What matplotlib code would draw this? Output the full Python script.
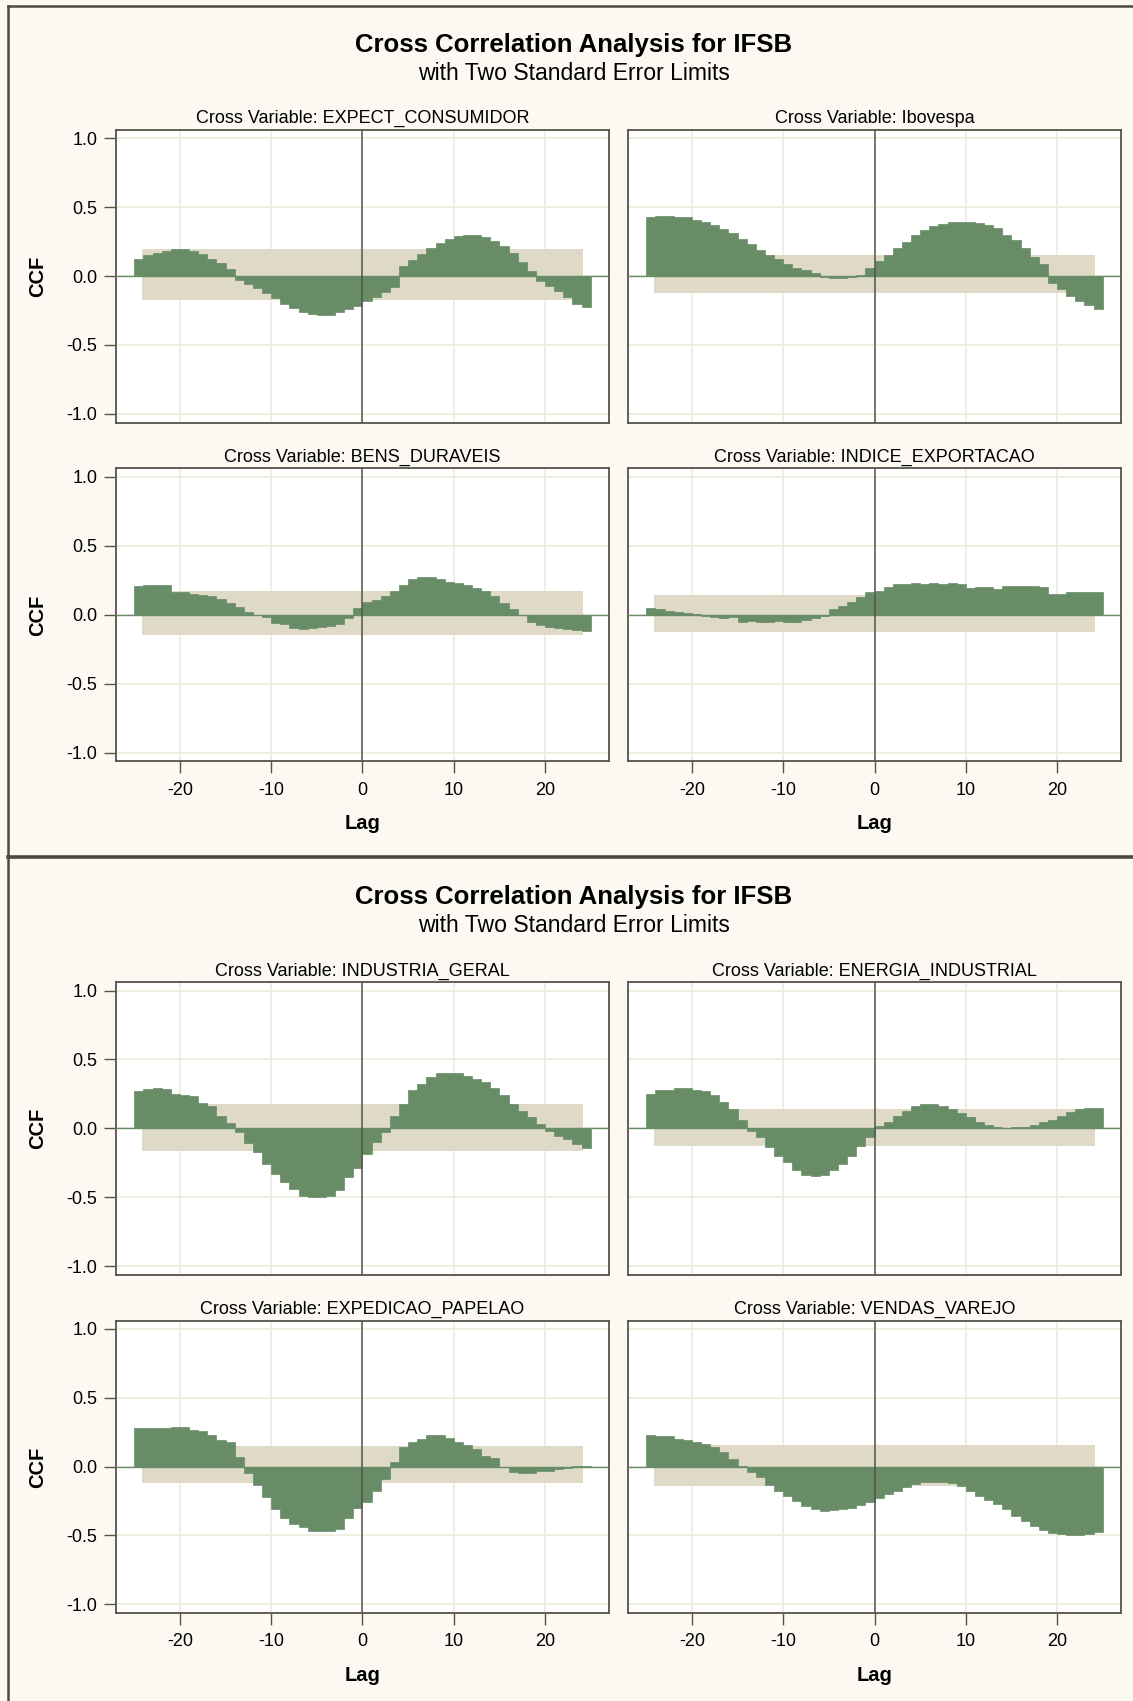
import numpy as np
import matplotlib
matplotlib.use("Agg")
import matplotlib.pyplot as plt
from matplotlib.lines import Line2D

plt.rcParams['font.family'] = ['Liberation Sans', 'DejaVu Sans']
plt.rcParams['axes.unicode_minus'] = False

# lag at the left edge of each step
lags = np.arange(-25, 25)

expect_consumidor = [0.125, 0.155, 0.17, 0.185, 0.195, 0.195, 0.18, 0.16, 0.125, 0.095,
                     0.05, -0.03, -0.055, -0.09, -0.125, -0.16, -0.2, -0.235, -0.26, -0.275,
                     -0.28, -0.28, -0.26, -0.24, -0.215, -0.185, -0.15, -0.115, -0.08, 0.07,
                     0.115, 0.16, 0.205, 0.24, 0.27, 0.29, 0.30, 0.295, 0.28, 0.255,
                     0.215, 0.17, 0.1, 0.035, -0.035, -0.07, -0.11, -0.15, -0.2, -0.225]
ibovespa = [0.43, 0.435, 0.435, 0.43, 0.425, 0.41, 0.39, 0.37, 0.34, 0.31,
            0.27, 0.23, 0.19, 0.15, 0.12, 0.09, 0.06, 0.04, 0.02, -0.005,
            -0.015, -0.015, -0.01, 0.01, 0.06, 0.11, 0.155, 0.2, 0.25, 0.295,
            0.335, 0.365, 0.38, 0.39, 0.395, 0.395, 0.385, 0.37, 0.345, 0.3,
            0.26, 0.2, 0.14, 0.09, -0.048, -0.096, -0.144, -0.18, -0.21, -0.236]
bens_duraveis = [0.21, 0.215, 0.215, 0.215, 0.165, 0.165, 0.147, 0.14, 0.135, 0.11,
                 0.087, 0.055, 0.02, 0.0, -0.02, -0.06, -0.065, -0.1, -0.105, -0.1,
                 -0.087, -0.08, -0.07, -0.027, 0.05, 0.09, 0.105, 0.135, 0.17, 0.215,
                 0.255, 0.27, 0.273, 0.256, 0.237, 0.227, 0.215, 0.195, 0.17, 0.135,
                 0.087, 0.04, 0.0, -0.053, -0.075, -0.09, -0.1, -0.105, -0.11, -0.12]
indice_exportacao = [0.05, 0.04, 0.025, 0.017, 0.012, 0.007, -0.007, -0.017, -0.024, -0.017,
                     -0.05, -0.045, -0.05, -0.05, -0.045, -0.05, -0.05, -0.036, -0.024, -0.007,
                     0.04, 0.065, 0.09, 0.13, 0.163, 0.17, 0.2, 0.22, 0.225, 0.23,
                     0.225, 0.23, 0.223, 0.23, 0.225, 0.19, 0.2, 0.197, 0.187, 0.207,
                     0.207, 0.207, 0.207, 0.2, 0.153, 0.15, 0.163, 0.165, 0.165, 0.163]
industria_geral = [0.27, 0.285, 0.29, 0.285, 0.25, 0.24, 0.235, 0.185, 0.16, 0.09,
                   0.04, -0.03, -0.105, -0.17, -0.26, -0.33, -0.39, -0.44, -0.49, -0.5,
                   -0.5, -0.49, -0.445, -0.355, -0.29, -0.185, -0.096, -0.024, 0.09, 0.18,
                   0.275, 0.325, 0.373, 0.4, 0.405, 0.4, 0.38, 0.36, 0.337, 0.29,
                   0.24, 0.18, 0.128, 0.08, 0.03, -0.02, -0.053, -0.077, -0.113, -0.14]
energia_industrial = [0.25, 0.28, 0.28, 0.29, 0.29, 0.28, 0.272, 0.24, 0.193, 0.14,
                      0.063, -0.017, -0.065, -0.138, -0.2, -0.245, -0.306, -0.337, -0.347, -0.337,
                      -0.306, -0.258, -0.2, -0.13, -0.065, 0.02, 0.048, 0.09, 0.128, 0.164,
                      0.18, 0.18, 0.164, 0.14, 0.11, 0.08, 0.043, 0.024, 0.012, 0.005,
                      0.007, 0.012, 0.024, 0.043, 0.063, 0.087, 0.116, 0.14, 0.147, 0.147]
expedicao_papelao = [0.283, 0.283, 0.283, 0.283, 0.29, 0.29, 0.268, 0.256, 0.227, 0.19,
                     0.178, 0.073, -0.045, -0.13, -0.22, -0.31, -0.375, -0.42, -0.44, -0.47,
                     -0.47, -0.465, -0.45, -0.37, -0.3, -0.254, -0.18, -0.09, 0.03, 0.14,
                     0.18, 0.198, 0.227, 0.227, 0.21, 0.178, 0.16, 0.13, 0.08, 0.063,
                     0.0, -0.04, -0.05, -0.05, -0.035, -0.03, -0.015, -0.01, 0.007, 0.005]
vendas_varejo = [0.232, 0.225, 0.22, 0.2, 0.19, 0.178, 0.166, 0.14, 0.105, 0.056,
                 0.007, -0.04, -0.078, -0.13, -0.18, -0.21, -0.25, -0.285, -0.31, -0.32,
                 -0.317, -0.31, -0.3, -0.28, -0.26, -0.225, -0.2, -0.18, -0.15, -0.127,
                 -0.11, -0.11, -0.115, -0.122, -0.14, -0.176, -0.212, -0.244, -0.273, -0.31,
                 -0.36, -0.395, -0.43, -0.463, -0.48, -0.49, -0.5, -0.5, -0.49, -0.475]

names = ['EXPECT_CONSUMIDOR', 'Ibovespa', 'BENS_DURAVEIS', 'INDICE_EXPORTACAO',
         'INDUSTRIA_GERAL', 'ENERGIA_INDUSTRIAL', 'EXPEDICAO_PAPELAO', 'VENDAS_VAREJO']
series = [expect_consumidor, ibovespa, bens_duraveis, indice_exportacao,
          industria_geral, energia_industrial, expedicao_papelao, vendas_varejo]
band_upper = [0.195, 0.149, 0.172, 0.143, 0.176, 0.14, 0.146, 0.158]
band_lower = [-0.171, -0.12, -0.15, -0.126, -0.166, -0.125, -0.122, -0.14]
band_lags = [-24.2, 24.2]

BG = '#fbf9f1'
GREEN = '#678c66'
BAND = '#dedac7'
GRID = '#eeebdc'
DARK = '#57524a'

W, H = 1133, 1701
fig = plt.figure(figsize=(W / 100, H / 100), dpi=100, facecolor=BG)


def add_ax(left, top, right, bottom):
    return fig.add_axes([left / W, 1 - bottom / H, (right - left) / W, (bottom - top) / H])


# frames of the two graphs
fig.add_artist(Line2D([8 / W, 8 / W], [0, 1 - 6 / H], transform=fig.transFigure, color='#4d493f', lw=1.8))
fig.add_artist(Line2D([8 / W, 1], [1 - 6 / H, 1 - 6 / H], transform=fig.transFigure, color='#4d493f', lw=1.8))
fig.add_artist(Line2D([8 / W, 1], [1 - 857 / H, 1 - 857 / H], transform=fig.transFigure, color='#4d493f', lw=2.6))

cols = [(116, 609), (628, 1121)]
rows = [(130, 422.7), (468.5, 761.5), (982.3, 1275), (1320.6, 1613.3)]

for top_y in (0, 852):
    fig.text(574 / W, 1 - (45 + top_y) / H, 'Cross Correlation Analysis for IFSB',
             ha='center', va='center', fontsize=18.5, fontweight='bold')
    fig.text(574 / W, 1 - (73 + top_y) / H, 'with Two Standard Error Limits',
             ha='center', va='center', fontsize=16.6)

for i, (name, vals) in enumerate(zip(names, series)):
    r, c = divmod(i, 2)
    ax = add_ax(cols[c][0], rows[r][0], cols[c][1], rows[r][1])
    ax.set_facecolor('white')
    ax.fill_between(band_lags, band_lower[i], band_upper[i], color=BAND, lw=0, zorder=1)
    ax.bar(lags, vals, width=1, align='edge', color=GREEN, edgecolor=GREEN, lw=0.5, zorder=2)
    ax.axhline(0, color=GREEN, lw=1.0, zorder=3)
    ax.axvline(0, color=DARK, lw=1.1, zorder=4)
    ax.set_xlim(-27, 27)
    ax.set_ylim(-1.065, 1.06)
    ax.set_xticks([-20, -10, 0, 10, 20])
    ax.set_yticks([-1, -0.5, 0, 0.5, 1])
    ax.yaxis.set_major_formatter(lambda v, p: f"{v:.1f}")
    ax.grid(True, color=GRID, lw=1.2, zorder=0)
    ax.set_axisbelow(True)
    for s in ax.spines.values():
        s.set_color(DARK)
        s.set_linewidth(1.3)
    ax.set_title(f"Cross Variable: {name}", fontsize=13, pad=5)

    bottom_row = r in (1, 3)
    if c == 0:
        ax.tick_params(axis='y', length=8.5, width=1, color=DARK, pad=5, labelsize=13)
        ax.set_ylabel('CCF', fontsize=14.5, fontweight='bold', va='center')
        ax.yaxis.set_label_coords(-78 / 493, 0.5)
    else:
        ax.tick_params(axis='y', length=0, labelleft=False)
    if bottom_row:
        ax.tick_params(axis='x', length=8.5, width=1, color=DARK, pad=6, labelsize=13)
        ax.set_xlabel('Lag', fontsize=14.5, fontweight='bold', va='center')
        ax.xaxis.set_label_coords(0.5, -62 / 293)
    else:
        ax.tick_params(axis='x', length=0, labelbottom=False)

fig.savefig('out.png', dpi=100, facecolor=BG)
